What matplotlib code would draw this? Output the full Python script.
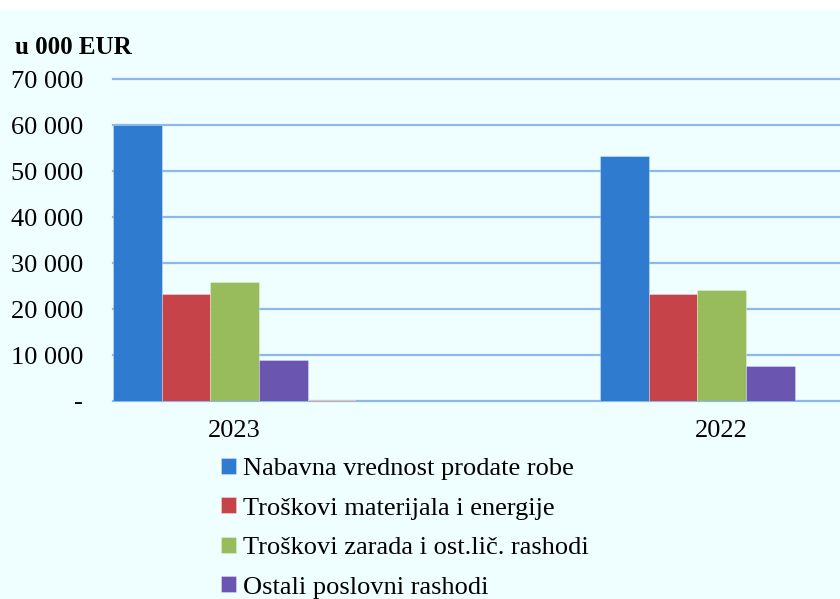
import matplotlib
matplotlib.use("Agg")
import matplotlib.pyplot as plt
import numpy as np

years = ["2023", "2022"]
series_names = [
    "Nabavna vrednost prodate robe",
    "Troškovi materijala i energije",
    "Troškovi zarada i ost.lič. rashodi",
    "Ostali poslovni rashodi",
    "",
]
nabavna = [60100, 53200]
materijal = [23250, 23250]
zarade = [25850, 24100]
ostali = [8950, 7650]
peti = [300, 0]
colors = ["#2E7BCF", "#C7434A", "#98BB5C", "#6A55B0", "#F6C3A0"]
yticks = [0, 10000, 20000, 30000, 40000, 50000, 60000, 70000]
ytick_labels = ["-", "10 000", "20 000", "30 000", "40 000", "50 000", "60 000", "70 000"]

plt.rcParams['font.family'] = ['Liberation Serif', 'DejaVu Serif']

W, H = 840, 599
fig = plt.figure(figsize=(W / 100, H / 100), dpi=100)
fig.patch.set_facecolor("#EFFFFF")
# white strip at top
fig.patches.append(plt.Rectangle((0, (H - 10) / H), 1, 10 / H, transform=fig.transFigure,
                                 facecolor="white", edgecolor="none", zorder=-10))

ax_left = 113 / W
ax_bottom = (H - 401) / H
ax_top = (H - 79) / H
ax = fig.add_axes([ax_left, ax_bottom, 1 - ax_left, ax_top - ax_bottom])
ax.set_facecolor("none")

x = np.arange(len(years))
w = 0.1
all_series = [nabavna, materijal, zarade, ostali, peti]
for i, (vals, c, name) in enumerate(zip(all_series, colors, series_names)):
    edge = (1, 1, 1, 0.35) if name else "none"
    ax.bar(x + (i - 2) * w, vals, width=w, color=c, edgecolor=edge,
           linewidth=0.6, label=name if name else "_nolegend_", zorder=3)

ax.set_xlim(-0.25, (840 - 234.5) / 487)
ax.set_ylim(0, 70000)
ax.set_yticks(yticks)
ax.set_yticklabels(ytick_labels, fontsize=19)
ax.set_xticks(x)
ax.set_xticklabels(years, fontsize=19)
ax.tick_params(axis="y", length=0, pad=21.5)
ax.tick_params(axis="x", length=0, pad=14)
ax.yaxis.grid(True, color="#8DB8EE", linewidth=1.6, zorder=1)
for gl in ax.get_ygridlines():
    gl.set_clip_on(False)
ax.set_axisbelow(True)
for s in ax.spines.values():
    s.set_visible(False)
ax.axhline(0, color="#8DB8EE", linewidth=2, zorder=2)

fig.text(15 / W, (H - 48) / H, "u 000 EUR", fontsize=18, fontweight="bold",
         ha="left", va="center")

handles, labels = ax.get_legend_handles_labels()
leg = fig.legend(handles, labels, loc="upper left",
                 bbox_to_anchor=(221 / W, (H - 458) / H), frameon=False,
                 fontsize=19, handlelength=0.55, handleheight=0.55,
                 handletextpad=0.3, labelspacing=0.65, borderpad=0,
                 borderaxespad=0)

fig.savefig("out.png", dpi=100, facecolor=fig.get_facecolor())
